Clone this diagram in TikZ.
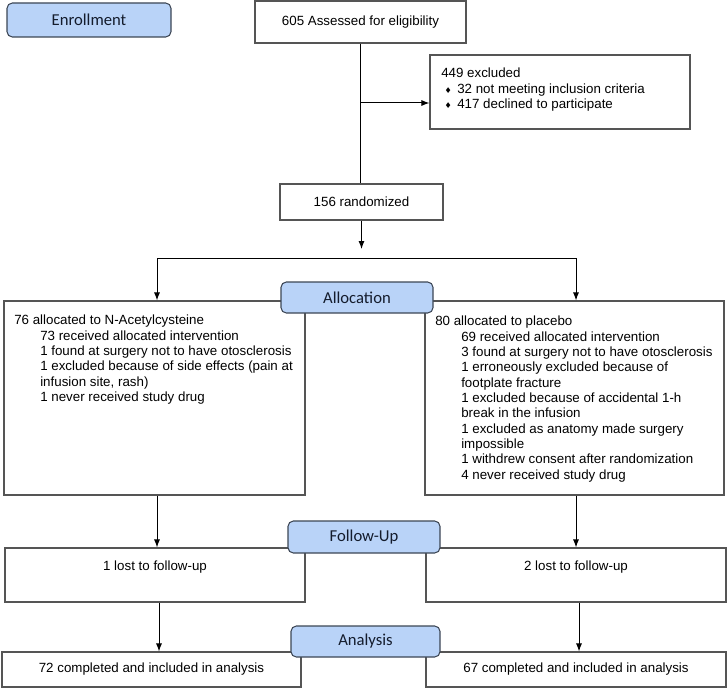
\documentclass[tikz,border=0pt]{standalone}
\usepackage{fontspec}
\setmainfont{Liberation Sans}
\newfontfamily\labelfont{Carlito}
\newfontfamily\symfont{DejaVu Sans}
\usetikzlibrary{arrows.meta}
\definecolor{labfill}{RGB}{185,211,248}
\definecolor{labdraw}{RGB}{60,70,85}
\definecolor{labtext}{RGB}{20,28,45}
\definecolor{boxdraw}{RGB}{85,85,85}
\newcommand\bul{\makebox[12pt][l]{\hspace{2.5pt}{\symfont\fontsize{6}{6}\selectfont ♦}}}
\newcommand\ind{\hspace*{19.5pt}}
\begin{document}
\begin{tikzpicture}[x=0.75pt,y=-0.75pt,
  sz/.style 2 args={minimum width=#1*0.75pt, minimum height=#2*0.75pt},
  pbox/.style={draw=boxdraw, line width=0.8pt, inner sep=0pt, font=\fontsize{10}{11.5}\selectfont},
  stage/.style={draw=labdraw, fill=labfill, rounded corners=4pt, line width=0.8pt, inner sep=0pt,
    font=\labelfont\fontsize{12.5}{14}\selectfont, text=labtext},
  txt/.style={inner sep=0pt, align=left, font=\fontsize{10}{11.5}\selectfont},
  conn/.style={line width=0.75pt},
  arr/.style={conn, -{Latex[length=6pt,width=4.5pt]}}]
\useasboundingbox (0,0) rectangle (727,688);

% enrollment
\node[stage, sz={164}{34}] (enroll) at (89,20) {Enrollment};
\node[pbox, sz={211}{42}] (assess) at (360.5,22) {605 Assessed for eligibility};
\node[pbox, sz={260}{74}] (excl) at (560,92) {};
\node[txt, anchor=north west] (excltxt) at (441,68) {449 excluded\\
\bul 32 not meeting inclusion criteria\\
\bul 417 declined to participate};
\node[pbox, sz={163}{36}] (rand) at (361.5,202) {156 randomized};

\draw[conn] (assess.south) -- (assess.south |- rand.north);
\coordinate (branch) at (361,103);
\draw[arr] (branch) -- (excl.west |- branch);

% allocation
\coordinate (rtip) at (361.5,249);
\draw[arr] (rand.south) -- (rtip);
\coordinate (hl) at (157,258);
\coordinate (hr) at (576,258);
\draw[conn] (hl) -- (hr);

\node[pbox, sz={301}{194}] (nac) at (154.5,398) {};
\node[pbox, sz={299}{194}] (plc) at (574.5,398) {};
\draw[arr] (hl) -- (hl |- nac.north);
\draw[arr] (hr) -- (hr |- plc.north);
\node[stage, sz={152}{31}] (alloc) at (357,297.5) {Allocation};

\node[txt, anchor=north west] (nactxt) at (14,315) {76 allocated to N-Acetylcysteine\\
\ind 73 received allocated intervention\\
\ind 1 found at surgery not to have otosclerosis\\
\ind 1 excluded because of side effects (pain at\\
\ind infusion site, rash)\\
\ind 1 never received study drug};

\node[txt, anchor=north west] (plctxt) at (435,316) {80 allocated to placebo\\
\ind 69 received allocated intervention\\
\ind 3 found at surgery not to have otosclerosis\\
\ind 1 erroneously excluded because of\\
\ind footplate fracture\\
\ind 1 excluded because of accidental 1-h\\
\ind break in the infusion\\
\ind 1 excluded as anatomy made surgery\\
\ind impossible\\
\ind 1 withdrew consent after randomization\\
\ind 4 never received study drug};

% follow-up
\node[pbox, sz={300}{54}] (lost1) at (155,575) {};
\node[pbox, sz={300}{54}] (lost2) at (576,575) {};
\node[txt] (lost1txt) at (155,567) {1 lost to follow-up};
\node[txt] (lost2txt) at (576,567) {2 lost to follow-up};
\draw[arr] (hl |- nac.south) -- (hl |- lost1.north);
\draw[arr] (hr |- plc.south) -- (hr |- lost2.north);
\node[stage, sz={152}{32}] (follow) at (364,537) {Follow-Up};

% analysis
\node[pbox, sz={299}{35}] (an1) at (151.5,669.5) {72 completed and included in analysis};
\node[pbox, sz={300}{35}] (an2) at (576,669.5) {67 completed and included in analysis};
\coordinate (al) at (159,0);
\coordinate (ar) at (579,0);
\draw[arr] (al |- lost1.south) -- (al |- an1.north);
\draw[arr] (ar |- lost2.south) -- (ar |- an2.north);
\node[stage, sz={149}{31}] (analysis) at (365.5,641.5) {Analysis};
\end{tikzpicture}
\end{document}
